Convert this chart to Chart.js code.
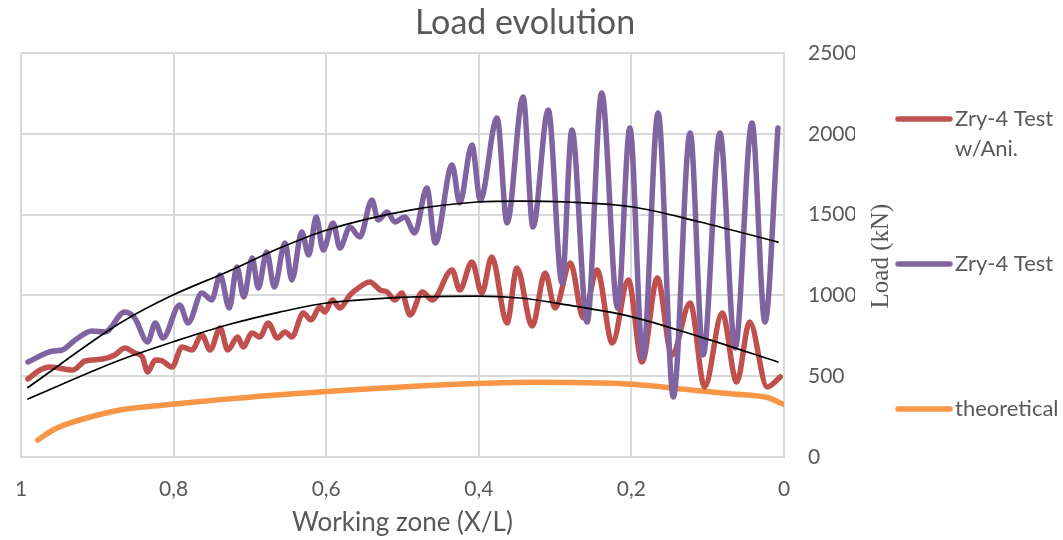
<!DOCTYPE html>
<html>
<head>
<meta charset="utf-8">
<script src="https://cdn.jsdelivr.net/npm/chart.js@4"></script>
<style>
html,body{margin:0;padding:0;background:#fff;}
</style>
</head>
<body>
<canvas id="loadChart" width="1063" height="540"></canvas>
<script>
// load evolution chart

const chartTitle = "Load evolution";
const xTitle = "Working zone (X/L)";
const yTitle = "Load (kN)";

// Zry-4 Test (purple)
const testX = [0.991,0.958,0.946,0.929,0.907,0.890,0.864,0.851,0.834,0.824,0.814,0.792,0.781,0.763,0.750,0.739,0.727,0.717,0.708,0.697,0.689,0.678,0.668,0.654,0.645,0.632,0.623,0.613,0.604,0.591,0.582,0.569,0.556,0.540,0.532,0.520,0.510,0.497,0.484,0.468,0.457,0.435,0.425,0.409,0.398,0.376,0.363,0.342,0.329,0.309,0.291,0.278,0.258,0.239,0.218,0.202,0.185,0.165,0.145,0.123,0.106,0.084,0.064,0.042,0.025,0.008];
const testY = [588,656,662,724,780,774,897,860,712,829,736,941,829,1015,972,1126,922,1176,990,1231,1046,1268,1052,1324,1095,1392,1250,1485,1281,1448,1293,1423,1361,1590,1467,1516,1454,1485,1386,1665,1324,1807,1572,1931,1590,2098,1448,2228,1423,2148,1077,2024,835,2253,922,2036,613,2129,371,2005,631,2005,675,2067,835,2036];

// Zry-4 Test w/Ani. (red)
const aniX = [0.991,0.975,0.962,0.932,0.916,0.893,0.877,0.864,0.851,0.841,0.834,0.824,0.815,0.802,0.789,0.776,0.763,0.752,0.739,0.729,0.716,0.709,0.697,0.687,0.676,0.664,0.654,0.645,0.630,0.620,0.608,0.602,0.592,0.582,0.569,0.556,0.543,0.529,0.520,0.510,0.501,0.490,0.474,0.461,0.435,0.425,0.409,0.396,0.383,0.363,0.350,0.330,0.313,0.300,0.280,0.263,0.245,0.225,0.204,0.186,0.166,0.147,0.123,0.104,0.081,0.062,0.045,0.022,0.005];
const aniY = [483,538,557,538,594,606,631,675,644,619,526,600,595,557,681,662,755,662,798,662,743,681,767,743,829,736,774,743,891,848,928,897,971,922,1002,1052,1083,1033,1021,971,1015,879,1021,971,1157,1033,1207,1015,1238,829,1170,810,1139,922,1200,860,1157,705,1095,588,1108,630,953,433,891,464,835,433,495];

// theoretical (orange)
const theoX = [0.978,0.958,0.936,0.913,0.870,0.827,0.782,0.739,0.696,0.661,0.599,0.490,0.402,0.329,0.241,0.198,0.132,0.067,0.022,0.0];
const theoY = [105,167,210,243,291,315,336,355,372,385,405,437,455,462,458,450,420,390,368,325];

// trend lines (black)
const trendX = [0.991,0.870,0.801,0.730,0.661,0.599,0.490,0.402,0.346,0.284,0.198,0.110,0.008];
const trendTestY = [430,829,1002,1145,1293,1405,1528,1578,1584,1578,1547,1454,1330];
const trendAniY = [359,600,712,817,897,953,990,996,984,941,866,743,588];

const legendNames = [["Zry-4 Test","w/Ani."],["Zry-4 Test"],["theoretical"]];
const legendColors = ["#C0504D","#8064A2","#F79646"];

const toPts = (xs, ys) => xs.map((x, i) => ({x: x, y: ys[i]}));
const gray = "#595959";
const font = "Lato";

const sideText = {
    id: "sideText",
    afterDraw(chart) {
        const ctx = chart.ctx;
        ctx.save();
        ctx.fillStyle = gray;
        ctx.textAlign = "center";
        ctx.textBaseline = "middle";
        ctx.font = '34px "' + font + '"';
        ctx.fillText(chartTitle, 525, 23);
        ctx.font = '25px "Liberation Serif"';
        ctx.translate(881, 256);
        ctx.rotate(-Math.PI / 2);
        ctx.fillText(yTitle, 0, 0);
        ctx.restore();

        // legend
        const rows = [119, 264, 409];
        ctx.save();
        ctx.lineCap = "round";
        ctx.lineWidth = 5.5;
        ctx.font = '22px "' + font + '"';
        ctx.textBaseline = "middle";
        ctx.fillStyle = gray;
        legendNames.forEach((lines, i) => {
            ctx.strokeStyle = legendColors[i];
            ctx.beginPath();
            ctx.moveTo(898, rows[i]);
            ctx.lineTo(950, rows[i]);
            ctx.stroke();
            lines.forEach((t, j) => ctx.fillText(t, 955, rows[i] + j * 30));
        });
        ctx.restore();
    }
};

const lineSet = (label, data, color, width, order) => ({
    label: label,
    data: data,
    borderColor: color,
    backgroundColor: color,
    borderWidth: width,
    pointRadius: 0,
    fill: false,
    cubicInterpolationMode: "monotone",
    borderCapStyle: "round",
    borderJoinStyle: "round",
    order: order
});

new Chart(document.getElementById("loadChart"), {
    type: "line",
    data: {
        datasets: [
            lineSet("trend 1", toPts(trendX, trendTestY), "#000000", 1.7, 0),
            lineSet("trend 2", toPts(trendX, trendAniY), "#000000", 1.7, 0),
            lineSet("Zry-4 Test w/Ani.", toPts(aniX, aniY), legendColors[0], 5.5, 2),
            lineSet("Zry-4 Test", toPts(testX, testY), legendColors[1], 5.5, 1),
            lineSet("theoretical", toPts(theoX, theoY), legendColors[2], 5.5, 3),
        ],
    },
    options: {
        responsive: false,
        animation: false,
        devicePixelRatio: 1,
        layout: { padding: { left: 21, right: 208, top: 53, bottom: 0 } },
        plugins: {
            legend: { display: false },
            tooltip: { enabled: false },
            title: { display: false },
        },
        scales: {
            x: {
                type: "linear",
                min: 0,
                max: 1,
                reverse: true,
                grid: { color: "#d9d9d9", lineWidth: 2, drawTicks: false },
                border: { color: "#d9d9d9", width: 2 },
                ticks: {
                    stepSize: 0.2,
                    autoSkip: false,
                    maxRotation: 0,
                    padding: 20,
                    color: gray,
                    font: { family: font, size: 21 },
                    callback: (v) => String(Number(v.toFixed(1))).replace(".", ","),
                },
                title: {
                    display: true,
                    text: xTitle,
                    color: gray,
                    font: { family: font, size: 26 },
                    padding: { top: 5, bottom: 2 },
                },
                afterFit: (scale) => {
                    scale.height = 83;
                    scale.paddingLeft = 0;
                    scale.paddingRight = 0;
                },
            },
            y: {
                position: "right",
                min: 0,
                max: 2500,
                grid: { color: "#d9d9d9", lineWidth: 2, drawTicks: false },
                border: { color: "#d9d9d9", width: 2 },
                ticks: {
                    stepSize: 500,
                    padding: 24,
                    color: gray,
                    font: { family: font, size: 21 },
                    callback: (v) => String(v),
                },
                afterFit: (scale) => { scale.width = 71; },
            },
        },
    },
    plugins: [sideText],
});
</script>
</body>
</html>
